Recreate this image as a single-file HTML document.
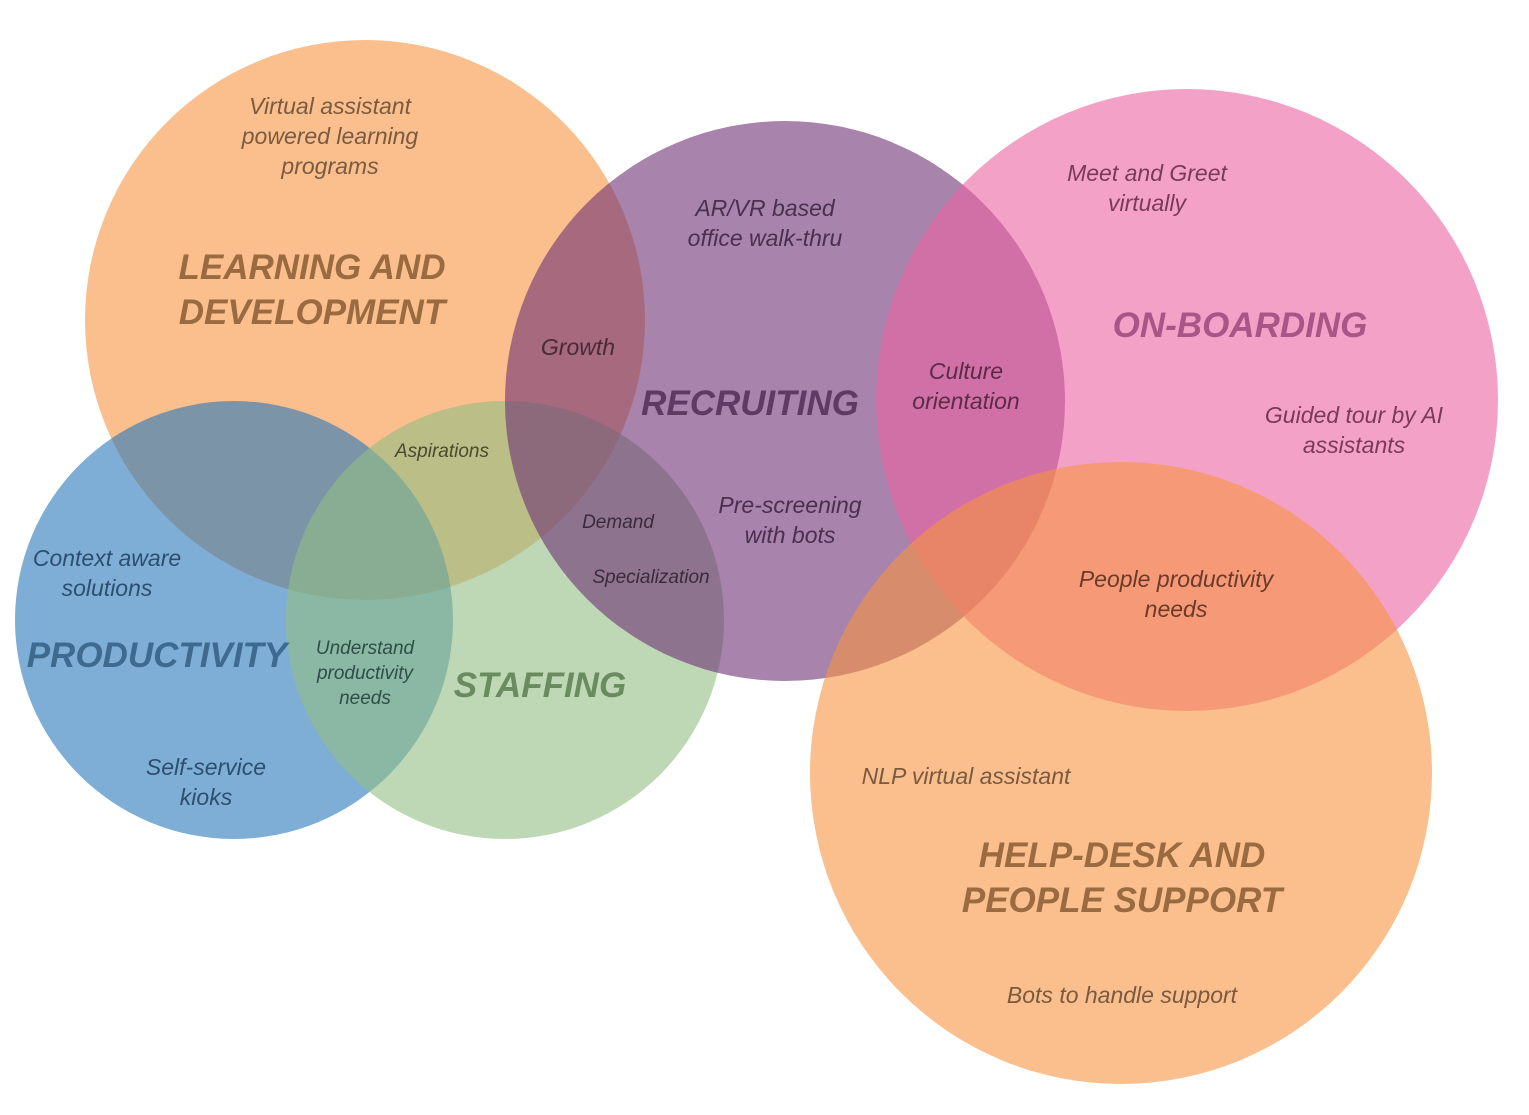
<!DOCTYPE html>
<html><head><meta charset="utf-8"><style>
html,body{margin:0;padding:0;background:#fff;}
svg{display:block;}
text{font-family:"Liberation Sans",sans-serif;font-style:italic;}
.s{font-size:23px;font-weight:normal;}
.t{font-size:19px;}
.h{font-size:35px;font-weight:bold;}
</style></head><body>
<svg width="1529" height="1115" viewBox="0 0 1529 1115" xmlns="http://www.w3.org/2000/svg">
<g fill-opacity="0.6">
<circle cx="365" cy="320" r="280" fill="#F6943F"/>
<circle cx="234" cy="620" r="219" fill="#2878BB"/>
<circle cx="505" cy="620" r="219" fill="#93BE84"/>
<circle cx="785" cy="401" r="280" fill="#6E3075"/>
<circle cx="1187" cy="400" r="311" fill="#ED62A3"/>
<circle cx="1121" cy="773" r="311" fill="#F6943F"/>
</g>
<g text-anchor="middle">
<text class="s" x="330" y="114" fill="#7a5a40">Virtual assistant</text>
<text class="s" x="330" y="144" fill="#7a5a40">powered learning</text>
<text class="s" x="330" y="174" fill="#7a5a40">programs</text>
<text class="h" x="312" y="279" fill="#9a6a40">LEARNING AND</text>
<text class="h" x="312" y="324" fill="#9a6a40">DEVELOPMENT</text>
<text class="s" x="578" y="355" fill="#4a2a36">Growth</text>
<text class="s" x="765" y="216" fill="#4a2f4e">AR/VR based</text>
<text class="s" x="765" y="246" fill="#4a2f4e">office walk-thru</text>
<text class="h" x="750" y="415" fill="#5e3a64">RECRUITING</text>
<text class="s" x="1147" y="181" fill="#7a3a5a">Meet and Greet</text>
<text class="s" x="1147" y="211" fill="#7a3a5a">virtually</text>
<text class="h" x="1240" y="337" fill="#a85688">ON-BOARDING</text>
<text class="s" x="966" y="379" fill="#5a2c48">Culture</text>
<text class="s" x="966" y="409" fill="#5a2c48">orientation</text>
<text class="s" x="1354" y="423" fill="#7a3a5a">Guided tour by AI</text>
<text class="s" x="1354" y="453" fill="#7a3a5a">assistants</text>
<text class="t" x="442" y="457" fill="#4a4a30">Aspirations</text>
<text class="t" x="618" y="528" fill="#3a2a3e">Demand</text>
<text class="s" x="790" y="513" fill="#4a2f4e">Pre-screening</text>
<text class="s" x="790" y="543" fill="#4a2f4e">with bots</text>
<text class="t" x="651" y="583" fill="#3a2a3e">Specialization</text>
<text class="s" x="107" y="566" fill="#2e4e70">Context aware</text>
<text class="s" x="107" y="596" fill="#2e4e70">solutions</text>
<text class="h" x="157" y="667" fill="#3e6a90">PRODUCTIVITY</text>
<text class="t" x="365" y="654" fill="#2e4e48">Understand</text>
<text class="t" x="365" y="679" fill="#2e4e48">productivity</text>
<text class="t" x="365" y="704" fill="#2e4e48">needs</text>
<text class="h" x="540" y="697" fill="#6a8a60">STAFFING</text>
<text class="s" x="206" y="775" fill="#2e4e70">Self-service</text>
<text class="s" x="206" y="805" fill="#2e4e70">kioks</text>
<text class="s" x="1176" y="587" fill="#6a3a2a">People productivity</text>
<text class="s" x="1176" y="617" fill="#6a3a2a">needs</text>
<text class="s" x="966" y="784" fill="#7a5a40">NLP virtual assistant</text>
<text class="h" x="1122" y="867" fill="#9a6a40">HELP-DESK AND</text>
<text class="h" x="1122" y="912" fill="#9a6a40">PEOPLE SUPPORT</text>
<text class="s" x="1122" y="1003" fill="#7a5a40">Bots to handle support</text>
</g>
</svg>
</body></html>
